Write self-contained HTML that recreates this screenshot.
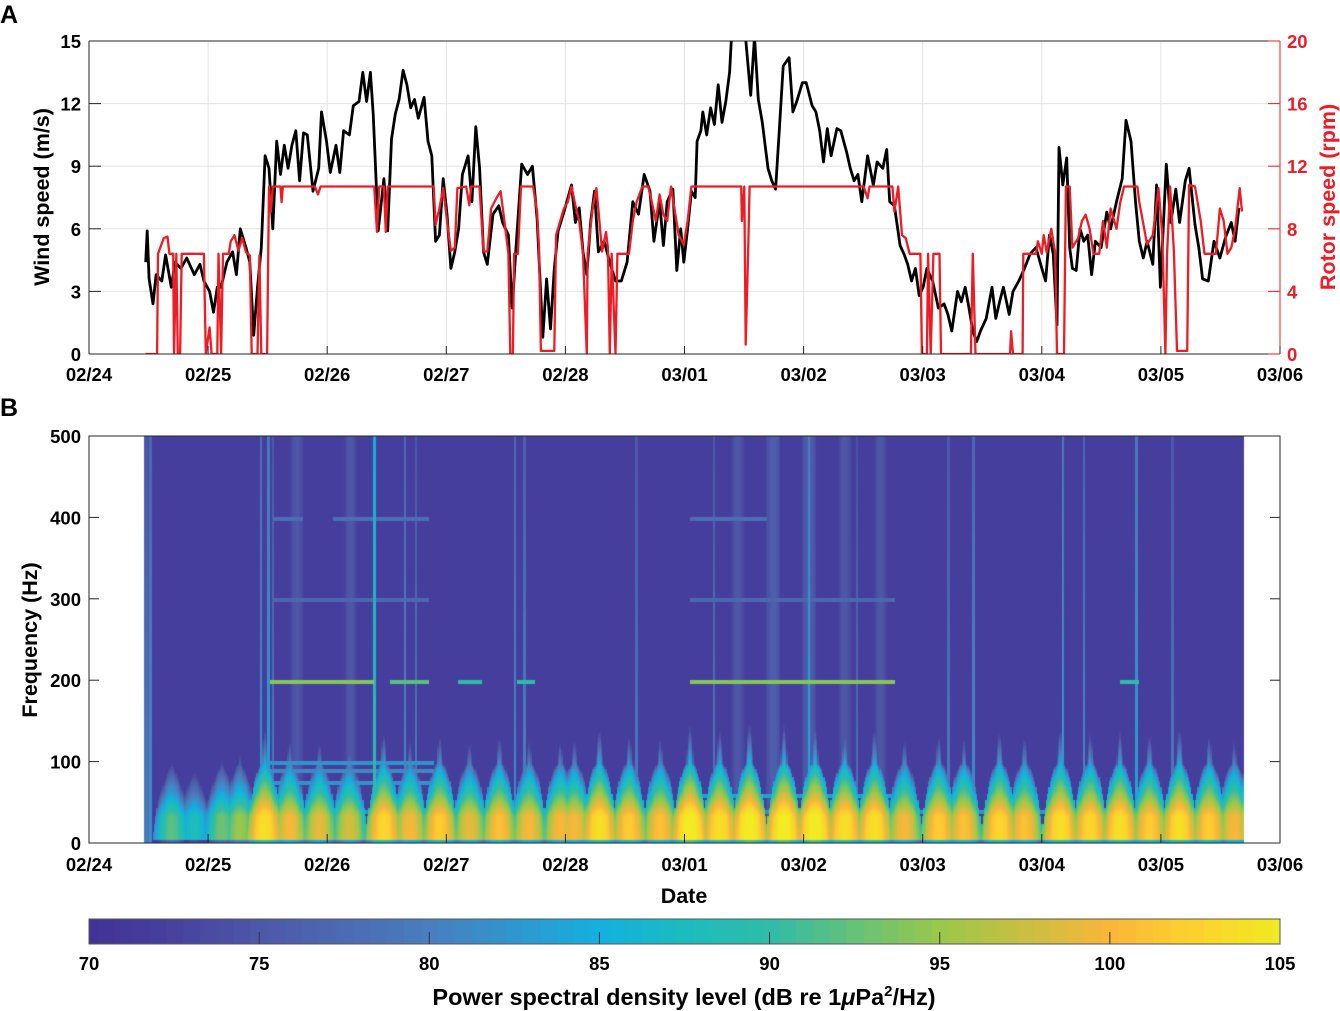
<!DOCTYPE html>
<html><head><meta charset="utf-8">
<style>
html,body{margin:0;padding:0;background:#fff;}
#wrap{position:relative;width:1340px;height:1011px;overflow:hidden;font-family:"Liberation Sans",Arial,sans-serif;}
svg text{font-family:"Liberation Sans",Arial,sans-serif;font-weight:bold;}
#spec{position:absolute;left:89px;top:436px;}
#cbar{position:absolute;left:89px;top:919px;}
#ov{position:absolute;left:0;top:0;}
</style></head>
<body>
<div id="wrap">
<canvas id="spec" width="1191" height="407"></canvas>
<canvas id="cbar" width="1191" height="25"></canvas>
<svg id="ov" width="1340" height="1011" xmlns="http://www.w3.org/2000/svg"></svg>
</div>
<script>
// ---------- Panel A data (time in days since 02/24 00:00) ----------
const dateLabels=["02/24","02/25","02/26","02/27","02/28","03/01","03/02","03/03","03/04","03/05","03/06"];
const windTicks=[0,3,6,9,12,15];
const rotorTicks=[0,4,8,12,16,20];
const freqTicks=[0,100,200,300,400,500];
const cbarTicks=[70,75,80,85,90,95,100,105];
const windT=[.476,.489,.505,.537,.563,.611,.643,.691,.723,.772,.820,.884,.932,.965,1.013,1.045,1.077,1.109,1.158,1.206,1.238,1.270,1.318,1.350,1.383,1.415,1.447,1.479,1.511,1.543,1.576,1.608,1.640,1.672,1.704,1.736,1.768,1.801,1.833,1.881,1.929,1.952,1.994,2.026,2.074,2.106,2.138,2.186,2.219,2.267,2.299,2.331,2.363,2.386,2.412,2.428,2.476,2.508,2.540,2.572,2.604,2.637,2.669,2.701,2.733,2.765,2.814,2.846,2.878,2.910,2.942,2.974,3.006,3.039,3.071,3.103,3.135,3.183,3.215,3.248,3.280,3.312,3.344,3.392,3.441,3.473,3.521,3.553,3.585,3.633,3.682,3.723,3.762,3.810,3.842,3.875,3.907,3.939,3.987,4.051,4.084,4.116,4.148,4.180,4.212,4.244,4.277,4.325,4.373,4.421,4.469,4.518,4.566,4.614,4.662,4.710,4.743,4.791,4.823,4.855,4.903,4.935,4.968,
4.994,5.026,5.058,5.090,5.106,5.138,5.154,5.186,5.219,5.251,5.283,5.315,5.347,5.379,5.395,5.45,5.50,5.556,5.588,5.620,5.653,5.701,5.733,5.765,5.797,5.829,5.878,5.910,5.942,5.990,6.022,6.071,6.103,6.135,6.167,6.199,6.231,6.280,6.312,6.360,6.392,6.424,6.456,6.489,6.537,6.585,6.617,6.665,6.698,6.723,6.762,6.810,6.842,6.874,6.907,6.939,6.971,7.003,7.035,7.083,7.132,7.180,7.212,7.244,7.292,7.324,7.357,7.389,7.421,7.453,7.485,7.533,7.582,7.614,7.646,7.678,7.726,7.758,7.807,7.855,7.903,7.951,8.000,8.032,8.064,8.096,8.128,8.144,8.176,8.209,8.234,8.257,8.289,8.321,8.353,8.385,8.418,8.450,8.498,8.546,8.578,8.627,8.675,8.707,8.749,8.787,8.819,8.852,8.884,8.932,8.964,8.996,9.045,9.083,9.125,9.157,9.205,9.237,9.286,9.318,9.350,9.398,9.446,9.495,9.543,9.591,9.623,9.655,9.671];
const windV=[4.4,5.9,3.6,2.4,3.8,3.5,4.75,3.2,4.4,4.1,4.6,3.8,4.3,3.5,3.0,2.0,3.2,3.2,4.4,4.9,3.8,6.0,5.1,4.4,0.9,3.2,5.1,9.5,8.9,6.0,10.2,8.6,10.0,8.9,10.0,10.7,8.3,10.6,10.5,7.8,8.9,11.6,10.2,8.7,10.0,8.7,10.7,10.5,11.9,12.1,13.5,12.1,13.5,11.5,8.1,5.9,8.4,5.9,10.3,11.5,12.2,13.6,12.9,11.8,12.2,11.3,12.3,10.2,9.5,5.4,5.7,8.4,6.7,4.1,4.9,6.0,8.6,9.5,7.3,10.9,8.9,4.9,4.3,6.7,7.1,6.3,5.7,2.2,5.1,9.1,8.6,9.0,6.5,0.8,3.6,1.2,4.1,5.9,6.8,8.1,6.3,7.0,4.9,3.8,6.3,7.8,4.9,5.4,4.4,3.5,3.5,4.4,7.3,6.7,8.6,7.8,5.4,7.3,5.2,7.3,7.9,4.0,6.0,
4.4,6.0,7.8,7.5,10.2,10.7,11.6,10.5,11.8,11.0,12.9,11.1,12.1,13.5,15.2,16,16,12.4,15.2,12.2,11.1,8.9,8.3,7.9,10.8,13.8,14.2,11.6,12.1,13.0,13.0,11.9,11.6,10.7,9.2,10.8,9.5,10.8,10.7,9.7,8.9,8.3,8.6,7.3,9.5,8.1,9.2,8.9,9.8,7.3,7.1,5.2,4.8,4.3,3.5,4.1,2.8,3.2,4.1,3.5,2.2,2.4,1.9,1.1,3.0,2.5,3.2,2.2,1.1,0.6,1.1,1.7,3.2,1.7,2.5,3.2,1.9,3.0,3.5,4.1,4.8,5.1,4.1,3.5,5.7,4.8,1.4,9.9,8.1,9.4,5.1,4.1,4.0,6.0,5.4,5.7,3.8,5.4,5.1,6.8,6.0,7.3,8.4,11.2,10.2,7.3,5.4,4.6,5.4,4.3,8.1,3.2,9.1,6.3,7.9,6.3,8.3,8.9,6.2,5.1,3.6,3.5,5.4,4.6,5.6,6.3,5.4,7.0];
const rotorT=[.476,.572,.579,.627,.659,.675,.707,.714,.733,.746,.765,.778,.965,.981,1.013,1.029,1.077,1.087,1.109,1.125,1.174,1.190,1.222,1.254,1.286,1.318,1.350,1.366,1.415,1.431,1.447,1.495,1.511,1.527,1.543,1.608,1.617,1.627,1.897,1.923,1.945,2.395,2.418,2.437,2.476,2.492,2.508,2.894,2.910,2.942,2.974,3.006,3.039,3.071,3.093,3.167,3.193,3.209,3.279,3.312,3.344,3.376,3.424,3.456,3.488,3.521,3.537,3.559,3.569,3.601,3.627,3.729,3.762,3.778,3.794,3.907,3.922,3.987,4.019,4.051,4.084,4.116,4.148,4.180,4.186,4.228,4.260,4.276,4.308,4.341,4.357,4.373,4.389,4.421,4.437,4.534,4.566,4.598,4.646,4.694,4.726,4.759,4.791,4.823,4.855,4.887,4.919,4.951,
4.994,5.026,5.058,5.476,5.482,5.502,5.514,5.534,5.547,6.505,6.537,6.553,6.746,6.762,6.794,6.826,6.858,6.890,6.981,6.993,7.035,7.045,7.067,7.090,7.141,7.154,7.405,7.421,7.443,7.733,7.742,7.758,7.839,7.845,7.951,7.967,8.000,8.016,8.041,8.080,8.112,8.128,8.186,8.202,8.234,8.257,8.305,8.337,8.369,8.401,8.434,8.482,8.514,8.546,8.578,8.627,8.659,8.691,8.803,8.819,8.884,8.932,8.980,9.012,9.038,9.051,9.077,9.109,9.135,9.221,9.237,9.286,9.334,9.366,9.462,9.495,9.527,9.559,9.591,9.623,9.662,9.681];
const rotorV=[0,0,6.4,7.4,7.5,6.4,6.4,0,6.4,0,0,6.4,6.4,0,1.7,0,0,6.4,0,6.4,6.4,7.2,7.6,6.6,7.4,6.5,6.3,0,0,6.3,0,0,10.7,9.1,10.7,10.7,9.7,10.7,10.7,10.2,10.7,10.7,7.8,10.7,10.7,7.8,10.7,10.7,8.25,9.3,10.6,8.5,6.6,6.8,10.6,10.7,9.5,10.7,10.7,6.55,6.55,9.3,10.0,10.4,8.5,6.4,0,0,6.4,6.4,10.7,10.7,9.1,6.8,0.2,0.2,7.6,9.3,9.7,10.7,9.5,8.5,6.4,0,6.4,9.3,10.6,9.3,6.55,7.8,6.8,0,6.4,0,6.4,6.4,8.5,9.7,10.7,10.7,9.7,8.5,10.2,8.9,8.5,10.7,9.1,7.6,
7.0,8.5,10.7,10.7,8.5,10.7,0.6,6.4,10.7,10.7,9.95,10.7,10.7,9.1,10.7,7.6,7.4,6.4,6.4,0,0,6.4,0,6.4,6.4,0,0,6.4,0,0,1.45,0,0,6.4,6.4,7.2,6.4,7.6,6.5,8.0,6.5,0,0,10.7,10.7,6.8,7.4,8.5,8.9,8.0,6.4,6.4,8.5,6.8,9.3,8.0,9.7,10.7,10.7,9.7,7.0,7.6,10.6,7.6,0,6.3,10.7,6.55,0.2,0.2,10.8,10.7,8.5,6.4,6.4,9.3,8.5,6.4,6.8,8.0,10.6,9.1];

// ---------- Panel B data ----------
const blobT=[0.70,0.89,1.12,1.27,1.48,1.69,1.94,2.19,2.48,2.70,2.95,3.20,3.45,3.70,3.96,4.08,4.29,4.54,4.80,5.05,5.30,5.55,5.84,6.10,6.35,6.60,6.85,7.14,7.35,7.65,7.86,8.16,8.41,8.66,8.91,9.16,9.41,9.62];
const blobL=[92,88,93,95,104,100,99,98,103,100,102,99,101,100,100,100,104,102,101,106,104,106,106,106,104,104,100,102,101,103,101,104,103,104,102,104,102,100];
const lineF=[200,200,200,200,200,200,400,400,400,300,300,100,90,75,60,40];
const lineStart=[1.52,2.53,3.10,3.60,5.05,8.66,1.55,2.05,5.05,1.55,5.05,1.52,1.52,1.52,5.05,1.52];
const lineEnd=[2.40,2.86,3.30,3.75,6.77,8.82,1.80,2.86,5.70,2.86,6.77,2.90,2.90,2.90,6.77,9.60];
const lineL=[94,92,90,90,94,90,78,78,78,77,77,82,81,82,83,82];
const streakT=[0.48,0.50,0.52,1.45,1.51,1.55,2.40,2.66,2.75,3.58,3.66,4.60,5.25,6.05,6.45,7.22,7.43,8.18,8.36,8.80,9.10];
const streakL=[80,79,82,83,84,80,90,82,80,82,81,80,80,85,79,80,82,84,82,84,80];
const hazeT=[1.75,2.20,5.45,5.75,6.05,6.35,6.65];
const hazeL=[75,75,75,76,76,75,75];
const specStart=0.47, specEnd=9.68;
const cmapV=[70,72,75,80,85,87.5,90,95,100,102,105];
const cmapC=[[66,50,150],[70,62,156],[78,88,168],[74,126,190],[20,176,224],[28,188,190],[48,188,168],[155,200,74],[249,183,58],[253,206,48],[242,234,34]];
</script>
<script>
const NS="http://www.w3.org/2000/svg";
const svg=document.getElementById('ov');
const X0=89,X1=1280;
const xDay=d=>X0+(X1-X0)*d/10;
const AY0=354,AY1=41;
const yWind=v=>AY0-(AY0-AY1)*v/15;
const yRot=v=>AY0-(AY0-AY1)*v/20;
const BY0=843,BY1=436;
const yFreq=f=>BY0-(BY0-BY1)*f/500;
const FS=18.5, TS=21.5;
function mk(tag,attrs,parent){const e=document.createElementNS(NS,tag);for(const k in attrs)e.setAttribute(k,attrs[k]);(parent||svg).appendChild(e);return e;}
function txt(s,x,y,opt){const t=mk('text',Object.assign({x:x,y:y,'font-size':FS},opt||{}));t.textContent=s;return t;}

const gA=mk('g',{});


for(let i=1;i<10;i++){mk('line',{x1:xDay(i),x2:xDay(i),y1:AY1,y2:AY0,stroke:'#e3e3e3','stroke-width':1},gA);}
windTicks.forEach(v=>{if(v>0&&v<15)mk('line',{x1:X0,x2:X1,y1:yWind(v),y2:yWind(v),stroke:'#e3e3e3','stroke-width':1},gA);});
const defs=mk('defs',{});
const cp=mk('clipPath',{id:'clipA'},defs);
mk('rect',{x:X0,y:AY1,width:X1-X0,height:AY0-AY1},cp);
let d='';windT.forEach((t,i)=>{d+=(i?'L':'M')+xDay(t).toFixed(1)+','+yWind(windV[i]).toFixed(1);});
const wl=mk('path',{d:d,fill:'none',stroke:'#000','stroke-width':2.8,'stroke-linejoin':'round','clip-path':'url(#clipA)'});


d='';rotorT.forEach((t,i)=>{d+=(i?'L':'M')+xDay(t).toFixed(1)+','+yRot(rotorV[i]).toFixed(1);});
const rl=mk('path',{d:d,fill:'none',stroke:'#ee1c25','stroke-width':2.3,'stroke-linejoin':'round','clip-path':'url(#clipA)'});


mk('line',{x1:X0,x2:X1,y1:AY1,y2:AY1,stroke:'#262626','stroke-width':1});
mk('line',{x1:X0,x2:X1,y1:AY0,y2:AY0,stroke:'#262626','stroke-width':1});
mk('line',{x1:X0,x2:X0,y1:AY1,y2:AY0,stroke:'#262626','stroke-width':1});
mk('line',{x1:X1,x2:X1,y1:AY1,y2:AY0,stroke:'#ee1c25','stroke-width':1});
windTicks.forEach(v=>{mk('line',{x1:X0,x2:X0+12,y1:yWind(v),y2:yWind(v),stroke:'#262626'});
 const t=txt(String(v),81,yWind(v)+7,{'text-anchor':'end'});
 
 });
rotorTicks.forEach(v=>{mk('line',{x1:X1-12,x2:X1,y1:yRot(v),y2:yRot(v),stroke:'#ee1c25'});
 const t=txt(String(v),1287,yRot(v)+7,{fill:'#ee1c25'});
 
 });
dateLabels.forEach((s,i)=>{mk('line',{x1:xDay(i),x2:xDay(i),y1:AY0,y2:AY0-8,stroke:'#262626'});
 const t=txt(s,xDay(i),381,{'text-anchor':'middle'});
 
 });
let t=txt('A',0,23,{'font-size':25});
t=txt('Wind speed (m/s)',0,0,{'font-size':TS,'text-anchor':'middle',transform:'translate(49,197) rotate(-90)'});

t=txt('Rotor speed (rpm)',0,0,{'font-size':TS,'text-anchor':'middle',fill:'#ee1c25',transform:'translate(1335,197) rotate(-90)'});


function cmap(v){
 if(v<=cmapV[0])return cmapC[0];
 for(let i=1;i<cmapV.length;i++){if(v<=cmapV[i]){const a=(v-cmapV[i-1])/(cmapV[i]-cmapV[i-1]);const c0=cmapC[i-1],c1=cmapC[i];return [c0[0]+(c1[0]-c0[0])*a,c0[1]+(c1[1]-c0[1])*a,c0[2]+(c1[2]-c0[2])*a];}}
 return cmapC[cmapC.length-1];
}
const cv=document.getElementById('spec');const cx=cv.getContext('2d');
cx.fillStyle='#fff';cx.fillRect(0,0,cv.width,cv.height);
const dt=0.01,df=2.5;
for(let tt=specStart;tt<specEnd;tt+=dt){
 const tc=tt+dt/2;
 for(let f=0;f<500;f+=df){
  const fc=f+df/2;let v=72;
  for(let i=0;i<blobT.length;i++){
   const w=0.12*Math.max(0.12,Math.sqrt(Math.max(0,1-fc/100)))+0.008;const u=(tc-blobT[i])/w;
   if(Math.abs(u)<1.3){let lev=blobL[i]-(fc<35?0:(fc-35)*0.3)-7*u*u; if(fc<6)lev-=14; v=Math.max(v,lev);}
  }
  for(let i=0;i<lineF.length;i++){if(Math.abs(fc-lineF[i])<2&&tc>=lineStart[i]&&tc<=lineEnd[i])v=Math.max(v,lineL[i]);}
  for(let i=0;i<streakT.length;i++){if(Math.abs(tc-streakT[i])<0.006)v=Math.max(v,streakL[i]-fc*0.01);}
  for(let i=0;i<hazeT.length;i++){const u=(tc-hazeT[i])/0.06;if(Math.abs(u)<1)v=Math.max(v,hazeL[i]-3*u*u);}
  const c=cmap(v);cx.fillStyle='rgb('+(c[0]|0)+','+(c[1]|0)+','+(c[2]|0)+')';
  const px=(X1-X0)*tt/10, py=(BY0-BY1)*(1-(f+df)/500);
  cx.fillRect(Math.floor(px),Math.floor(py),Math.ceil((X1-X0)*dt/10)+1,Math.ceil((BY0-BY1)*df/500)+1);
 }
}
mk('rect',{x:X0,y:BY1,width:X1-X0,height:BY0-BY1,fill:'none',stroke:'#262626','stroke-width':1});
freqTicks.forEach(v=>{mk('line',{x1:X0,x2:X0+10,y1:yFreq(v),y2:yFreq(v),stroke:'#262626'});mk('line',{x1:X1-10,x2:X1,y1:yFreq(v),y2:yFreq(v),stroke:'#262626'});
 const t=txt(String(v),81,yFreq(v)+7,{'text-anchor':'end'});
 
 });
dateLabels.forEach((s,i)=>{mk('line',{x1:xDay(i),x2:xDay(i),y1:BY0,y2:BY0-9,stroke:'#262626'});
 const t=txt(s,xDay(i),871,{'text-anchor':'middle'});
 
 });
t=txt('B',0,416,{'font-size':25});
t=txt('Frequency (Hz)',0,0,{'font-size':TS,'text-anchor':'middle',transform:'translate(37,640) rotate(-90)'});

t=txt('Date',684,903,{'font-size':TS,'text-anchor':'middle'});


const cb=document.getElementById('cbar').getContext('2d');
for(let i=0;i<1191;i++){const v=70+35*i/1191;const c=cmap(Math.round(v*2)/2);cb.fillStyle='rgb('+(c[0]|0)+','+(c[1]|0)+','+(c[2]|0)+')';cb.fillRect(i,0,1,25);}
mk('rect',{x:X0,y:919,width:X1-X0,height:25,fill:'none',stroke:'#555','stroke-width':1});
cbarTicks.forEach(v=>{const x=X0+(X1-X0)*(v-70)/35;
 if(v>70&&v<105)mk('line',{x1:x,x2:x,y1:932,y2:944,stroke:'#333'});
 const t=txt(String(v),x,970,{'text-anchor':'middle'});
 
 });
t=mk('text',{x:684,y:1005,'font-size':23.5,'text-anchor':'middle'});
t.innerHTML='Power spectral density level (dB re 1<tspan font-style="italic">μ</tspan>Pa<tspan dy="-9" font-size="15">2</tspan><tspan dy="9">/Hz)</tspan>';


</script>
</body></html>
